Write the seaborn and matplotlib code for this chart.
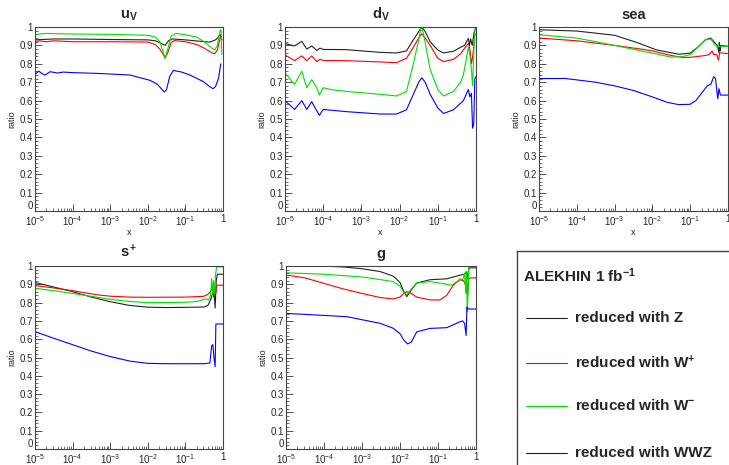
import numpy as np
import pandas as pd
import matplotlib
matplotlib.use("Agg")
import matplotlib.pyplot as plt
from matplotlib.ticker import FixedLocator, MultipleLocator, LogLocator, NullFormatter
from matplotlib.lines import Line2D
import seaborn as sns

sns.set_style("ticks")
plt.rcParams["font.family"] = ["Liberation Sans", "DejaVu Sans"]
plt.rcParams["mathtext.fontset"] = "custom"
plt.rcParams["mathtext.rm"] = "Liberation Sans"
plt.rcParams["mathtext.bf"] = "Liberation Sans:bold"
plt.rcParams["mathtext.it"] = "Liberation Sans:italic"

# ---------------- data (x given as log10(x)) ----------------
series_names = ["reduced with Z", "reduced with W+", "reduced with W-", "reduced with WWZ"]
legend_labels = ["reduced with Z", r"reduced with W$^{\mathbf{+}}$",
                 r"reduced with W$^{\mathbf{-}}$", "reduced with WWZ"]
colors = ["#222222", "#ff0000", "#00e000", "#0000ff"]

# u_V
uv_z_lx = [-5, -4.5, -4, -3, -2, -1.8, -1.65, -1.54, -1.45, -1.35, -1.0, -0.6, -0.35, -0.2, -0.12, -0.08, -0.05, -0.03]
uv_z_y = [0.93, 0.935, 0.935, 0.932, 0.93, 0.925, 0.912, 0.90, 0.925, 0.935, 0.93, 0.922, 0.918, 0.93, 0.945, 0.96, 0.94, 0.93]
uv_wp_lx = [-5, -4.9, -4.7, -4.5, -4, -3, -2, -1.8, -1.68, -1.6, -1.54, -1.47, -1.38, -1.3, -1.0, -0.7, -0.5, -0.3, -0.22, -0.15, -0.1, -0.07, -0.05, -0.03]
uv_wp_y = [0.915, 0.925, 0.92, 0.925, 0.92, 0.92, 0.918, 0.905, 0.88, 0.855, 0.83, 0.86, 0.915, 0.926, 0.92, 0.905, 0.885, 0.86, 0.855, 0.875, 0.92, 0.945, 0.95, 0.93]
uv_wm_lx = [-5, -4.9, -4.7, -4.5, -4, -3, -2, -1.8, -1.68, -1.6, -1.54, -1.47, -1.38, -1.25, -1.0, -0.7, -0.5, -0.3, -0.22, -0.15, -0.1, -0.07, -0.05, -0.04, -0.03]
uv_wm_y = [0.955, 0.962, 0.965, 0.964, 0.962, 0.96, 0.955, 0.945, 0.92, 0.87, 0.83, 0.88, 0.95, 0.965, 0.958, 0.945, 0.92, 0.885, 0.875, 0.9, 0.96, 0.985, 0.98, 0.9, 0.85]
uv_wwz_lx = [-5, -4.96, -4.9, -4.8, -4.73, -4.6, -4.4, -4.25, -4, -3.36, -2.47, -1.94, -1.75, -1.6, -1.56, -1.5, -1.42, -1.32, -1.1, -0.88, -0.52, -0.35, -0.27, -0.2, -0.12, -0.06]
uv_wwz_y = [0.74, 0.75, 0.76, 0.745, 0.739, 0.757, 0.75, 0.755, 0.752, 0.748, 0.739, 0.71, 0.69, 0.655, 0.647, 0.66, 0.73, 0.764, 0.755, 0.739, 0.703, 0.675, 0.665, 0.675, 0.72, 0.80]

# d_V
dv_z_lx = [-5, -4.75, -4.56, -4.43, -4.3, -4.17, -4.08, -4.0, -3.4, -2.5, -2.08, -1.82, -1.64, -1.5, -1.42, -1.33, -1.2, -1.0, -0.85, -0.59, -0.4, -0.3, -0.2, -0.17, -0.14, -0.1, -0.05, 0]
dv_z_y = [0.91, 0.897, 0.922, 0.88, 0.897, 0.873, 0.885, 0.878, 0.877, 0.862, 0.859, 0.87, 0.93, 0.975, 1.0, 0.975, 0.92, 0.875, 0.859, 0.868, 0.89, 0.9, 0.938, 0.9, 0.935, 0.9, 0.97, 1.0]
dv_wp_lx = [-5, -4.75, -4.56, -4.43, -4.3, -4.17, -4.08, -4.0, -3.4, -2.5, -2.08, -1.82, -1.64, -1.5, -1.42, -1.33, -1.2, -1.0, -0.85, -0.59, -0.4, -0.3, -0.2, -0.16, -0.12, -0.08, -0.03, 0]
dv_wp_y = [0.848, 0.817, 0.843, 0.817, 0.843, 0.812, 0.825, 0.818, 0.817, 0.81, 0.806, 0.83, 0.89, 0.94, 0.964, 0.94, 0.9, 0.83, 0.812, 0.824, 0.855, 0.884, 0.911, 0.88, 0.80, 0.85, 0.96, 0.96]
dv_wm_lx = [-5, -4.75, -4.56, -4.43, -4.3, -4.17, -4.1, -4.0, -3.8, -3.4, -2.5, -2.08, -1.82, -1.64, -1.5, -1.44, -1.38, -1.3, -1.2, -1.0, -0.85, -0.59, -0.4, -0.33, -0.2, -0.16, -0.12, -0.09, -0.05, -0.02]
dv_wm_y = [0.75, 0.688, 0.76, 0.67, 0.714, 0.67, 0.63, 0.67, 0.66, 0.65, 0.634, 0.625, 0.65, 0.80, 0.93, 1.0, 0.97, 0.88, 0.77, 0.66, 0.625, 0.65, 0.7, 0.74, 0.89, 0.85, 0.77, 0.68, 0.9, 1.0]
dv_wwz_lx = [-5, -4.75, -4.56, -4.43, -4.3, -4.17, -4.1, -4.0, -3.4, -2.5, -2.08, -1.82, -1.64, -1.5, -1.42, -1.33, -1.2, -1.0, -0.85, -0.59, -0.33, -0.2, -0.16, -0.12, -0.09, -0.06, -0.03, 0]
dv_wwz_y = [0.6, 0.552, 0.6, 0.552, 0.594, 0.545, 0.52, 0.552, 0.54, 0.527, 0.527, 0.55, 0.634, 0.7, 0.724, 0.7, 0.634, 0.56, 0.53, 0.55, 0.6, 0.66, 0.62, 0.64, 0.45, 0.47, 0.72, 0.73]

# sea
sea_z_lx = [-5, -4, -3, -2.4, -1.9, -1.3, -1.0, -0.8, -0.6, -0.46, -0.35, -0.28, -0.24, -0.23, -0.21, -0.2, 0]
sea_z_y = [0.985, 0.978, 0.955, 0.915, 0.876, 0.852, 0.858, 0.89, 0.93, 0.94, 0.915, 0.9, 0.86, 0.915, 0.87, 0.9, 0.895]
sea_wp_lx = [-5, -4, -3, -2.3, -2, -1.5, -1.2, -1.0, -0.8, -0.6, -0.5, -0.42, -0.38, -0.3, -0.25, -0.22, 0]
sea_wp_y = [0.94, 0.925, 0.9, 0.88, 0.87, 0.845, 0.835, 0.835, 0.84, 0.845, 0.85, 0.87, 0.85, 0.85, 0.82, 0.86, 0.855]
sea_wm_lx = [-5, -4, -3, -2.3, -2, -1.5, -1.2, -1.0, -0.8, -0.6, -0.46, -0.35, -0.3, 0]
sea_wm_y = [0.958, 0.94, 0.9, 0.87, 0.858, 0.836, 0.84, 0.85, 0.89, 0.93, 0.935, 0.905, 0.895, 0.895]
sea_wwz_lx = [-5, -4.3, -3.5, -3, -2.5, -2, -1.6, -1.3, -1.0, -0.85, -0.7, -0.55, -0.45, -0.38, -0.33, -0.3, -0.27, -0.24, -0.2, 0]
sea_wwz_y = [0.72, 0.72, 0.70, 0.68, 0.655, 0.62, 0.59, 0.578, 0.58, 0.60, 0.64, 0.68, 0.69, 0.73, 0.72, 0.66, 0.61, 0.665, 0.63, 0.63]

# s+
sp_z_lx = [-5, -4.5, -4, -3.5, -3, -2.5, -2, -1.5, -1, -0.5, -0.4, -0.32, -0.28, -0.25, -0.21, -0.18, -0.15, -0.13, 0]
sp_z_y = [0.91, 0.885, 0.86, 0.83, 0.805, 0.785, 0.775, 0.773, 0.774, 0.776, 0.785, 0.82, 0.85, 0.887, 0.77, 0.92, 0.955, 0.955, 0.955]
sp_wp_lx = [-5, -4.5, -4, -3.36, -3, -2.47, -2, -1, -0.52, -0.4, -0.33, -0.28, -0.25, -0.22, -0.19, -0.17, 0]
sp_wp_y = [0.893, 0.88, 0.865, 0.843, 0.835, 0.83, 0.829, 0.83, 0.834, 0.845, 0.86, 0.89, 0.83, 0.88, 0.85, 0.895, 0.895]
sp_wm_lx = [-5, -4.5, -4, -3.36, -3, -2.47, -2, -1.5, -1, -0.7, -0.45, -0.38, -0.33, -0.3, -0.27, -0.25, -0.22, -0.2, -0.17, 0]
sp_wm_y = [0.878, 0.865, 0.85, 0.83, 0.818, 0.806, 0.80, 0.80, 0.802, 0.806, 0.82, 0.815, 0.84, 0.93, 0.84, 0.92, 0.85, 0.95, 0.995, 0.995]
sp_wwz_lx = [-5, -4.5, -4, -3.5, -3, -2.47, -2, -1.5, -1, -0.5, -0.35, -0.3, -0.27, -0.24, -0.21, -0.2, -0.19, 0]
sp_wwz_y = [0.641, 0.605, 0.57, 0.535, 0.505, 0.48, 0.468, 0.466, 0.466, 0.466, 0.47, 0.565, 0.57, 0.50, 0.45, 0.55, 0.683, 0.683]

# g
g_z_lx = [-5, -4.11, -3.49, -3, -2.53, -2.18, -2.0, -1.9, -1.82, -1.7, -1.56, -1.21, -0.77, -0.42, -0.3, -0.25, -0.22, -0.2, -0.18, -0.15, 0]
g_z_y = [1.0, 1.0, 0.995, 0.985, 0.97, 0.945, 0.91, 0.86, 0.833, 0.87, 0.907, 0.925, 0.93, 0.95, 0.955, 0.97, 0.93, 0.97, 0.99, 0.99, 0.99]
g_wp_lx = [-5, -4.5, -4, -3.5, -3, -2.53, -2.18, -2.0, -1.9, -1.82, -1.7, -1.56, -1.21, -0.95, -0.77, -0.6, -0.42, -0.33, -0.28, -0.25, -0.22, -0.19, -0.15, 0]
g_wp_y = [0.951, 0.935, 0.905, 0.875, 0.85, 0.828, 0.82, 0.83, 0.85, 0.86, 0.85, 0.83, 0.815, 0.814, 0.84, 0.895, 0.925, 0.92, 0.9, 0.95, 0.84, 0.93, 0.935, 0.935]
g_wm_lx = [-5, -4, -3, -2.53, -2.18, -2.0, -1.9, -1.82, -1.7, -1.56, -1.21, -0.9, -0.64, -0.5, -0.42, -0.35, -0.3, -0.27, -0.25, -0.23, -0.21, -0.19, -0.15, 0]
g_wm_y = [0.963, 0.955, 0.94, 0.926, 0.915, 0.89, 0.855, 0.844, 0.875, 0.907, 0.915, 0.905, 0.895, 0.915, 0.93, 0.925, 0.96, 0.85, 0.97, 0.75, 0.85, 1.0, 1.0, 1.0]
g_wwz_lx = [-5, -4, -3.4, -2.53, -2.18, -2.0, -1.9, -1.8, -1.7, -1.56, -1.21, -0.77, -0.42, -0.35, -0.3, -0.26, -0.24, -0.22, -0.2, 0]
g_wwz_y = [0.741, 0.73, 0.723, 0.687, 0.66, 0.63, 0.595, 0.574, 0.585, 0.64, 0.659, 0.663, 0.695, 0.70, 0.686, 0.62, 0.775, 0.77, 0.765, 0.765]

panel_titles = [r"$\mathbf{u_V}$", r"$\mathbf{d_V}$", "sea", r"$\mathbf{s^+}$", "g"]
panel_data = [
    [(uv_z_lx, uv_z_y), (uv_wp_lx, uv_wp_y), (uv_wm_lx, uv_wm_y), (uv_wwz_lx, uv_wwz_y)],
    [(dv_z_lx, dv_z_y), (dv_wp_lx, dv_wp_y), (dv_wm_lx, dv_wm_y), (dv_wwz_lx, dv_wwz_y)],
    [(sea_z_lx, sea_z_y), (sea_wp_lx, sea_wp_y), (sea_wm_lx, sea_wm_y), (sea_wwz_lx, sea_wwz_y)],
    [(sp_z_lx, sp_z_y), (sp_wp_lx, sp_wp_y), (sp_wm_lx, sp_wm_y), (sp_wwz_lx, sp_wwz_y)],
    [(g_z_lx, g_z_y), (g_wp_lx, g_wp_y), (g_wm_lx, g_wm_y), (g_wwz_lx, g_wwz_y)],
]
x_tick_vals = [1e-5, 1e-4, 1e-3, 1e-2, 1e-1, 1]
x_tick_labels = [r"10$^{\mathrm{-5}}$", r"10$^{\mathrm{-4}}$", r"10$^{\mathrm{-3}}$",
                 r"10$^{\mathrm{-2}}$", r"10$^{\mathrm{-1}}$", "1"]
y_tick_vals = [0, 0.1, 0.2, 0.3, 0.4, 0.5, 0.6, 0.7, 0.8, 0.9, 1.0]
y_tick_labels = ["0", "0.1", "0.2", "0.3", "0.4", "0.5", "0.6", "0.7", "0.8", "0.9", "1"]
legend_title = r"ALEKHIN 1 fb$^{\mathbf{-1}}$"

# ---------------- layout ----------------
W, H = 729, 465
fig = plt.figure(figsize=(W / 100, H / 100), dpi=100)
fig.patch.set_facecolor("white")

def frac(l, t, r, b):
    return [l / W, 1 - b / H, (r - l) / W, (b - t) / H]

boxes = [frac(35, 27, 223, 211), frac(285, 27, 476, 211), frac(539, 27, 728, 211),
         frac(35, 266, 223, 449), frac(286, 266, 476, 449)]
bottom_row = [False, False, False, True, True]

for box, title, data, is_bottom in zip(boxes, panel_titles, panel_data, bottom_row):
    ax = fig.add_axes(box)
    for (lx, yv), c, name in zip(data, colors, series_names):
        df = pd.DataFrame({"x": np.power(10.0, np.array(lx)), "ratio": yv})
        sns.lineplot(data=df, x="x", y="ratio", color=c, linewidth=0.8,
                     estimator=None, sort=False, ax=ax)
    ax.set_xscale("log")
    ax.set_xlim(1e-5, 1)
    ax.set_ylim(0, 1)
    ax.xaxis.set_major_locator(FixedLocator(x_tick_vals))
    ax.set_xticklabels(x_tick_labels)
    ax.xaxis.set_minor_locator(LogLocator(base=10, subs=np.arange(2, 10)))
    ax.xaxis.set_minor_formatter(NullFormatter())
    ax.yaxis.set_major_locator(FixedLocator(y_tick_vals))
    ax.set_yticklabels(y_tick_labels)
    ax.yaxis.set_minor_locator(MultipleLocator(0.02))
    ax.tick_params(which="both", direction="in", top=False, right=False,
                   labelsize=7, color="#333333")
    ax.tick_params(axis="x", pad=2.5)
    ax.tick_params(axis="y", pad=1.5)
    ax.tick_params(which="major", length=5, width=0.6)
    ax.tick_params(which="minor", length=2.5, width=0.5)
    # nudge the y "0" label up a bit so it clears the first x label (as in ROOT)
    ylabs = ax.get_yticklabels()
    ylabs[0].set_verticalalignment("bottom")
    for s in ax.spines.values():
        s.set_color("#444444")
        s.set_linewidth(0.8)
    ax.set_xlabel("x", fontsize=6.5, labelpad=-2 if is_bottom else 0)
    ax.set_ylabel("ratio", fontsize=6.5, labelpad=2)
    ax.set_title(title, fontsize=10.5, fontweight="bold", pad=6)
    ax.set_facecolor("white")

# ---------------- legend panel ----------------
lax = fig.add_axes(frac(517, 251, 740, 475))
lax.set_xlim(0, 1)
lax.set_ylim(0, 1)
lax.set_xticks([])
lax.set_yticks([])
for k in ["right", "bottom"]:
    lax.spines[k].set_visible(False)
for k in ["left", "top"]:
    lax.spines[k].set_color("#444444")
    lax.spines[k].set_linewidth(1.0)
lax.text(0.028, 0.89, legend_title, fontsize=11, fontweight="bold",
         va="center", ha="left")
entry_y = [0.70, 0.50, 0.31, 0.10]
for yy, c, lab in zip(entry_y, colors, legend_labels):
    lax.add_line(Line2D([0.042, 0.225], [yy, yy], color=c, linewidth=0.8))
    lax.text(0.26, yy, lab, fontsize=11, fontweight="bold", va="center", ha="left")

fig.savefig("out.png", dpi=100, facecolor="white")
